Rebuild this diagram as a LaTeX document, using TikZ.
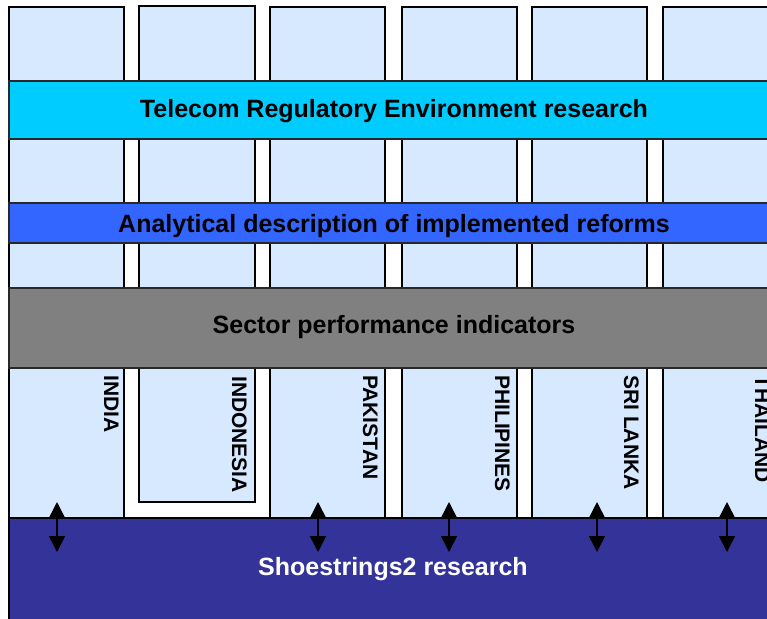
\documentclass[tikz,border=0pt]{standalone}
\usepackage{fontspec}
\setmainfont{Liberation Sans}
\usetikzlibrary{arrows.meta}

\definecolor{colfill}{RGB}{214,233,255}
\definecolor{telecom}{RGB}{0,204,255}
\definecolor{analytic}{RGB}{51,102,255}
\definecolor{sector}{RGB}{128,128,128}
\definecolor{shoe}{RGB}{51,51,153}
\definecolor{edge}{RGB}{40,40,40}

\tikzset{
  colbox/.style={fill=colfill, draw=black, line width=1.4pt},
  bandbox/.style={draw=edge, line width=1.4pt},
  bandtext/.style={anchor=base, inner sep=0pt, font=\fontsize{25}{30}\selectfont\bfseries},
  country/.style={rotate=-90, anchor=base west, inner sep=0pt,
                  font=\fontsize{21}{25}\selectfont\bfseries},
  link/.style={line width=1.5pt, {Triangle[width=16pt,length=16pt]}-{Triangle[width=16pt,length=16pt]}}
}

\begin{document}
\begin{tikzpicture}[x=1pt,y=-1pt]
\useasboundingbox (0,0) rectangle (767,618);
\clip (0,0) rectangle (767,618);

% country columns
\draw[colbox] (9,7)    rectangle (124,518);
\draw[colbox] (139,6)  rectangle (255,502);
\draw[colbox] (270,7)  rectangle (385,518);
\draw[colbox] (402,7)  rectangle (517,518);
\draw[colbox] (532,7)  rectangle (647,518);
\draw[colbox] (663,7)  rectangle (778,518);

% horizontal bands
\draw[bandbox, fill=telecom]  (9,81)  rectangle (779,139);
\draw[bandbox, fill=analytic] (9,203) rectangle (779,243);
\draw[bandbox, fill=sector]   (9,288) rectangle (779,368);
\draw[fill=shoe, draw=black, line width=1.4pt] (9,518) rectangle (779,640);

\node[bandtext] (tre) at (394,117) {Telecom Regulatory Environment research};
\node[bandtext] (adr) at (394,232) {Analytical description of implemented reforms};
\node[bandtext] (spi) at (394,333) {Sector performance indicators};
\node[bandtext, text=white] (shoe) at (393,575) {Shoestrings2 research};

% country labels
\node[country] (india)     at (104,375) {INDIA};
\node[country] (indonesia) at (232,376) {INDONESIA};
\node[country] (pakistan)  at (363,375) {PAKISTAN};
\node[country] (philip)    at (495,375) {PHILIPINES};
\node[country] (srilanka)  at (624,375) {SRI LANKA};
\node[country] (thailand)  at (755,375) {THAILAND};

% links between country studies and Shoestrings2
\foreach \i/\x in {1/57, 2/318, 3/449, 4/597, 5/727}{
  \coordinate (up\i) at (\x,502);
  \coordinate (dn\i) at (\x,552);
  \draw[link] (up\i) -- (dn\i);
}
\end{tikzpicture}
\end{document}
